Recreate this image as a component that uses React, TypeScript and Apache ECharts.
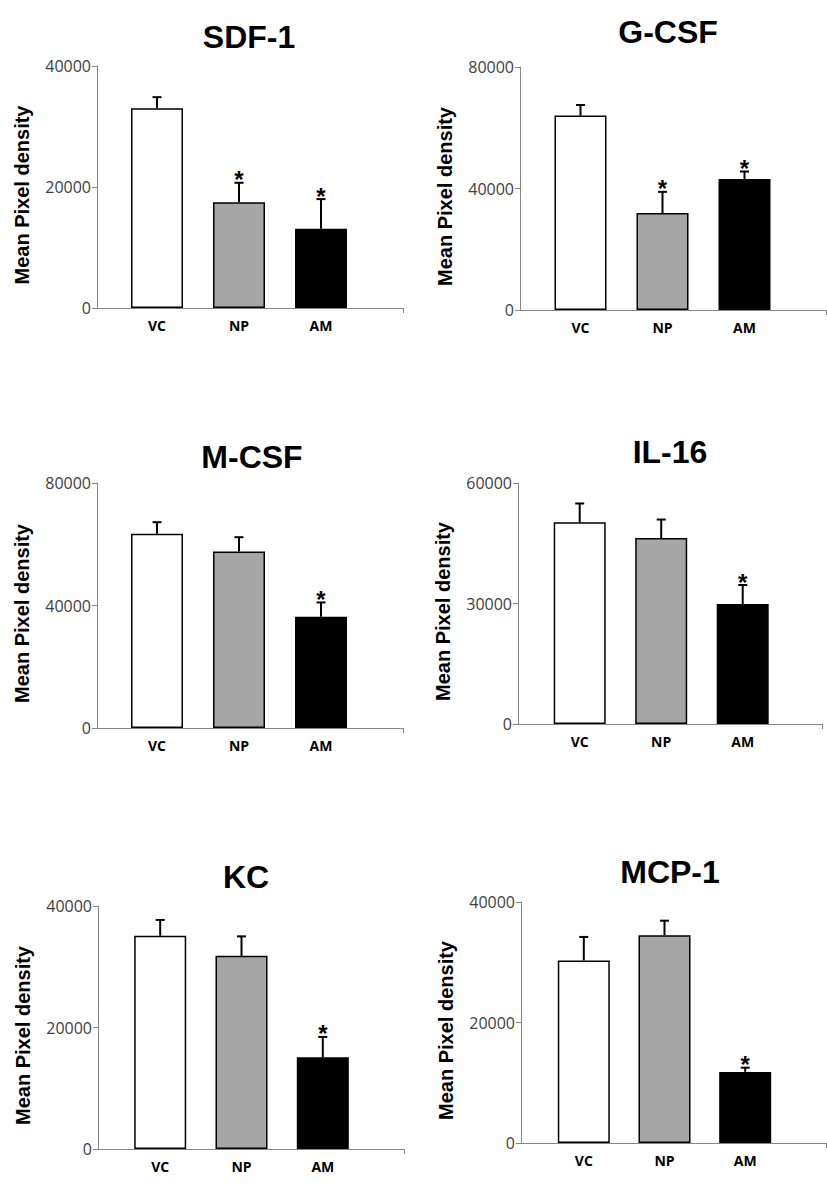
import React, { useEffect, useRef } from "react";
import * as echarts from "echarts";

// ---------- data ----------
const categories = ["VC", "NP", "AM"];
const panelTitles = ["SDF-1", "G-CSF", "M-CSF", "IL-16", "KC", "MCP-1"];
const yAxisMaxima = [40000, 80000, 80000, 60000, 40000, 40000];
const yAxisName = "Mean Pixel density";

const sdf1Means = [33000, 17500, 13100];
const sdf1Errors = [1850, 3200, 4900];
const sdf1Significant = [false, true, true];

const gcsfMeans = [64000, 31900, 43100];
const gcsfErrors = [3500, 7000, 2500];
const gcsfSignificant = [false, true, true];

const mcsfMeans = [63400, 57600, 36300];
const mcsfErrors = [3800, 4700, 4700];
const mcsfSignificant = [false, false, true];

const il16Means = [50200, 46300, 29900];
const il16Errors = [4700, 4600, 4700];
const il16Significant = [false, false, true];

const kcMeans = [35100, 31800, 15100];
const kcErrors = [2600, 3200, 3350];
const kcSignificant = [false, false, true];

const mcp1Means = [30300, 34500, 11800];
const mcp1Errors = [3900, 2400, 700];
const mcp1Significant = [false, false, true];

const allMeans = [sdf1Means, gcsfMeans, mcsfMeans, il16Means, kcMeans, mcp1Means];
const allErrors = [sdf1Errors, gcsfErrors, mcsfErrors, il16Errors, kcErrors, mcp1Errors];
const allSignificant = [
  sdf1Significant,
  gcsfSignificant,
  mcsfSignificant,
  il16Significant,
  kcSignificant,
  mcp1Significant,
];

// ---------- styling / layout ----------
const barColors = ["#ffffff", "#a6a6a6", "#000000"];
const axisColor = "#868686";

const layouts = [
  { axisX: 97, axisEnd: 403, top: 66, zero: 308, c0: 157, sp: 82, tx: 249, tb: 48 },
  { axisX: 520, axisEnd: 826, top: 67, zero: 310, c0: 580.5, sp: 82, tx: 668, tb: 43 },
  { axisX: 97, axisEnd: 403, top: 483, zero: 728, c0: 157, sp: 82, tx: 252, tb: 468 },
  { axisX: 518, axisEnd: 822, top: 483, zero: 724, c0: 579.7, sp: 81.5, tx: 670, tb: 463 },
  { axisX: 98, axisEnd: 404, top: 906, zero: 1149, c0: 160.2, sp: 81.3, tx: 246, tb: 888 },
  { axisX: 521, axisEnd: 826, top: 902, zero: 1143, c0: 583.8, sp: 80.7, tx: 670, tb: 883 },
];

const FONT_TITLE = "'Liberation Sans', Arial, sans-serif";
const FONT_TICK = "'Open Sans', 'Noto Sans', sans-serif";

function buildOption() {
  const grid: any[] = [];
  const xAxis: any[] = [];
  const yAxis: any[] = [];
  const series: any[] = [];
  const graphic: any[] = [];

  layouts.forEach((L, p) => {
    grid.push({
      left: L.axisX,
      top: L.top,
      width: L.axisEnd - L.axisX,
      height: L.zero - L.top,
      containLabel: false,
    });
    const xmin = (L.axisX - L.c0) / L.sp;
    const xmax = (L.axisEnd - L.c0) / L.sp;
    xAxis.push({
      type: "value",
      gridIndex: p,
      min: xmin,
      max: xmax,
      splitLine: { show: false },
      axisLine: { show: true, onZero: false, lineStyle: { color: axisColor, width: 1 } },
      axisTick: {
        show: true,
        customValues: [xmax],
        length: 5,
        lineStyle: { color: axisColor },
      },
      axisLabel: {
        show: true,
        customValues: [0, 1, 2],
        formatter: (v: number) => categories[Math.round(v)] ?? "",
        fontFamily: FONT_TICK,
        fontWeight: "bold",
        fontSize: 14,
        color: "#000",
        margin: 10,
      },
    });
    const max = yAxisMaxima[p];
    yAxis.push({
      type: "value",
      gridIndex: p,
      min: 0,
      max,
      interval: max / 2,
      splitLine: { show: false },
      axisLine: { show: true, onZero: false, lineStyle: { color: axisColor, width: 1 } },
      axisTick: { show: true, length: 5, lineStyle: { color: axisColor } },
      axisLabel: {
        fontFamily: FONT_TICK,
        fontSize: 16,
        color: "#404040",
        margin: 6,
        formatter: (v: number) => String(v),
      },
      name: yAxisName,
      nameLocation: "middle",
      nameRotate: 90,
      nameGap: 65,
      nameMoveOverlap: false,
      nameTextStyle: {
        fontFamily: FONT_TITLE,
        fontWeight: "bold",
        fontSize: 20,
        color: "#000",
        padding: [0, 16, 0, 0],
      },
    });

    const means = allMeans[p];
    const errs = allErrors[p];
    const sig = allSignificant[p];

    series.push({
      type: "bar",
      xAxisIndex: p,
      yAxisIndex: p,
      barWidth: 52,
      data: means.map((v, i) => ({
        value: [i, v],
        itemStyle: { color: barColors[i], borderColor: "#000", borderWidth: 1.5 },
      })),
      z: 2,
    });

    series.push({
      type: "custom",
      xAxisIndex: p,
      yAxisIndex: p,
      z: 3,
      data: means.map((v, i) => [i, v, errs[i], sig[i] ? 1 : 0]),
      renderItem: (params: any, api: any) => {
        const x = api.value(0);
        const m = api.value(1);
        const e = api.value(2);
        const s = api.value(3);
        const b = api.coord([x, m]);
        const t = api.coord([x, m + e]);
        const children: any[] = [
          {
            type: "line",
            shape: { x1: b[0], y1: b[1], x2: t[0], y2: t[1] },
            style: { stroke: "#000", lineWidth: 2 },
          },
          {
            type: "line",
            shape: { x1: t[0] - 4.5, y1: t[1], x2: t[0] + 4.5, y2: t[1] },
            style: { stroke: "#000", lineWidth: 2 },
          },
        ];
        if (s) {
          children.push({
            type: "text",
            x: t[0],
            y: t[1] - 3,
            style: {
              text: "*",
              fontFamily: FONT_TITLE,
              fontWeight: "bold",
              fontSize: 24,
              fill: "#000",
              align: "center",
              verticalAlign: "middle",
            },
          });
        }
        return { type: "group", children };
      },
    });

    graphic.push({
      type: "text",
      x: L.tx,
      y: L.tb - 11,
      style: {
        text: panelTitles[p],
        fontFamily: FONT_TITLE,
        fontWeight: "bold",
        fontSize: 32,
        fill: "#000",
        align: "center",
        verticalAlign: "middle",
      },
    });
  });

  return {
    animation: false,
    backgroundColor: "#ffffff",
    grid,
    xAxis,
    yAxis,
    series,
    graphic,
  };
}

export default function App() {
  const ref = useRef<HTMLDivElement | null>(null);
  useEffect(() => {
    if (!ref.current) return;
    const chart = echarts.init(ref.current, undefined, { renderer: "svg" });
    chart.setOption(buildOption() as any);
    return () => chart.dispose();
  }, []);
  return (
    <div
      ref={ref}
      style={{ position: "absolute", left: 0, top: 0, width: 827, height: 1186, background: "#fff" }}
    />
  );
}
